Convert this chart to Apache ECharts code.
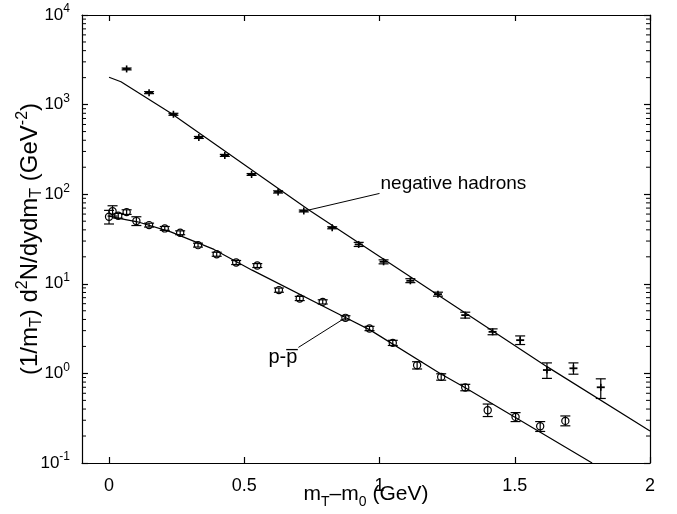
<!DOCTYPE html>
<html>
<head>
<meta charset="utf-8">
<script src="https://cdn.jsdelivr.net/npm/echarts@6/dist/echarts.min.js"></script>
<style>
  html, body { margin: 0; padding: 0; background: #fff; }
  #chart { width: 677px; height: 514px; }
</style>
</head>
<body>
<div id="chart"></div>
<script>
// Negative hadron spectrum (+ markers with error bars)
const hadronX  = [0.065, 0.148, 0.238, 0.332, 0.428, 0.527, 0.625, 0.720, 0.825, 0.923, 1.015, 1.114, 1.216, 1.317, 1.418, 1.520, 1.619, 1.717, 1.818];
const hadronY  = [2500, 1360, 780, 430, 271, 166, 106, 65.0, 42.2, 27.5, 17.6, 10.8, 7.66, 4.47, 2.91, 2.35, 1.09, 1.14, 0.70];
const hadronLo = [2440, 1325, 760, 419, 264, 162, 103, 63.4, 41.1, 26.1, 16.7, 10.3, 7.28, 4.14, 2.70, 2.10, 0.88, 0.98, 0.525];
const hadronHi = [2560, 1395, 800, 441, 278, 170, 109, 66.6, 43.3, 29.0, 18.5, 11.4, 8.06, 4.82, 3.14, 2.62, 1.31, 1.31, 0.87];

// Net proton spectrum (circles with error bars)
const ppbarX  = [0.000, 0.013, 0.034, 0.065, 0.101, 0.148, 0.206, 0.263, 0.329, 0.398, 0.470, 0.548, 0.628, 0.705, 0.790, 0.874, 0.963, 1.049, 1.139, 1.228, 1.317, 1.400, 1.503, 1.594, 1.687];
const ppbarY  = [56.0, 64.7, 57.4, 63.1, 50.1, 45.2, 41.5, 37.1, 27.0, 21.4, 17.3, 16.0, 8.5, 6.86, 6.28, 4.17, 3.17, 2.19, 1.23, 0.914, 0.695, 0.388, 0.327, 0.257, 0.295];
const ppbarLo = [46.5, 57.0, 54.0, 59.5, 44.7, 43.0, 39.5, 35.3, 25.7, 20.3, 16.4, 15.2, 8.05, 6.50, 5.95, 3.95, 3.00, 2.05, 1.12, 0.84, 0.64, 0.33, 0.29, 0.225, 0.26];
const ppbarHi = [66.0, 74.3, 61.0, 67.0, 56.0, 47.5, 43.6, 39.0, 28.4, 22.5, 18.2, 16.8, 8.97, 7.24, 6.63, 4.40, 3.35, 2.34, 1.35, 0.99, 0.755, 0.455, 0.365, 0.29, 0.335];

// Model curves
const hadronFitX = [0.0, 0.044, 0.229, 0.739, 1.619, 2.0];
const hadronFitY = [2020, 1800, 800, 66.7, 1.19, 0.227];
const ppbarFitX  = [0.0, 0.037, 0.105, 0.228, 0.388, 0.529, 0.874, 0.966, 1.224, 1.317, 1.786];
const ppbarFitY  = [57, 53.7, 49.2, 38.0, 24.2, 14.2, 4.2, 3.04, 1.0, 0.69, 0.1];

// Annotation leader lines: [from, to] in data units, and their texts
const hadronLeader = [[0.739, 66.7], [1.0, 102]];
const ppbarLeader  = [[0.875, 4.2], [0.70, 1.95]];
const hadronText = 'negative hadrons';
const ppbarText  = 'p-p\u0305';

// Axis ticks
const xTicks = [0, 0.5, 1, 1.5, 2];
const X_MIN = -0.1, X_MAX = 2;
const Y_MIN = 0.1, Y_MAX = 10000;
const minorYTicks = [];
for (let d = -1; d < 4; d++) {
  for (let m = 2; m <= 9; m++) minorYTicks.push(m * Math.pow(10, d));
}

const FONT = 'Liberation Sans, Arial, Helvetica, sans-serif';
const INK = '#000';

function pairs(xs, ys) { return xs.map((x, i) => [x, ys[i]]); }
function quads(xs, ys, lo, hi) { return xs.map((x, i) => [x, ys[i], lo[i], hi[i]]); }

function errorBarRenderer(marker) {
  return function (params, api) {
    const x = api.value(0);
    const c = api.coord([x, api.value(1)]);
    const lo = api.coord([x, api.value(2)]);
    const hi = api.coord([x, api.value(3)]);
    const cap = 5;
    const st = { stroke: INK, lineWidth: 1.2, fill: null };
    const children = [
      { type: 'line', shape: { x1: c[0], y1: lo[1], x2: c[0], y2: hi[1] }, style: st },
      { type: 'line', shape: { x1: c[0] - cap, y1: lo[1], x2: c[0] + cap, y2: lo[1] }, style: st },
      { type: 'line', shape: { x1: c[0] - cap, y1: hi[1], x2: c[0] + cap, y2: hi[1] }, style: st }
    ];
    if (marker === 'plus') {
      children.push({ type: 'line', shape: { x1: c[0] - 4, y1: c[1], x2: c[0] + 4, y2: c[1] }, style: { stroke: INK, lineWidth: 1.8 } });
      children.push({ type: 'line', shape: { x1: c[0], y1: c[1] - 3.5, x2: c[0], y2: c[1] + 3.5 }, style: { stroke: INK, lineWidth: 1.6 } });
    } else {
      children.push({ type: 'circle', shape: { cx: c[0], cy: c[1], r: 3.6 }, style: { stroke: INK, fill: 'rgba(0,0,0,0)', lineWidth: 1.2 } });
    }
    return { type: 'group', children: children };
  };
}

// Short inward ticks at 2..9 of every decade, on the left and right frame edges
function minorTickRenderer(params, api) {
  const v = api.value(1);
  const l = api.coord([X_MIN, v]);
  const r = api.coord([X_MAX, v]);
  const st = { stroke: INK, lineWidth: 1, fill: null };
  return {
    type: 'group',
    children: [
      { type: 'line', shape: { x1: l[0], y1: l[1], x2: l[0] + 4, y2: l[1] }, style: st },
      { type: 'line', shape: { x1: r[0], y1: r[1], x2: r[0] - 4, y2: r[1] }, style: st }
    ]
  };
}

function titleRich(size, small) {
  return {
    m:   { fontFamily: FONT, fontSize: size, color: INK, lineHeight: 30 },
    sub: { fontFamily: FONT, fontSize: small, color: INK, verticalAlign: 'bottom', lineHeight: 30 },
    sup: { fontFamily: FONT, fontSize: small, color: INK, verticalAlign: 'top', lineHeight: 30 }
  };
}

const axisLineStyle = { color: INK, width: 1.2 };

const option = {
  backgroundColor: '#fff',
  animation: false,
  grid: { left: 82, right: 27, top: 15, bottom: 51, outerBoundsMode: 'none', containLabel: false },
  xAxis: [
    {
      type: 'value', min: X_MIN, max: X_MAX,
      axisLine: { onZero: false, lineStyle: axisLineStyle },
      axisTick: { inside: true, length: 6, lineStyle: axisLineStyle, customValues: xTicks },
      axisLabel: { customValues: xTicks, margin: 14, fontSize: 18, fontFamily: FONT, color: INK },
      splitLine: { show: false },
      name: '{m|m}{sub|T}{m|–m}{sub|0}{m| (GeV)}',
      nameLocation: 'middle', nameGap: 16, nameMoveOverlap: false,
      nameTextStyle: { rich: titleRich(21, 14) }
    },
    {
      type: 'value', position: 'top', min: X_MIN, max: X_MAX,
      axisLine: { onZero: false, lineStyle: axisLineStyle },
      axisTick: { inside: true, length: 6, lineStyle: axisLineStyle, customValues: xTicks },
      axisLabel: { show: false },
      splitLine: { show: false }
    }
  ],
  yAxis: [
    {
      type: 'log', logBase: 10, min: Y_MIN, max: Y_MAX, position: 'left',
      axisLine: { onZero: false, lineStyle: axisLineStyle },
      axisTick: { inside: true, length: 6, lineStyle: axisLineStyle },
      axisLabel: {
        margin: 12,
        formatter: function (v) {
          const e = Math.round(Math.log10(v));
          return '{b|10}{s|' + (e < 0 ? '-' + (-e) : e) + '}';
        },
        rich: {
          b: { fontFamily: FONT, fontSize: 17, color: INK, lineHeight: 24 },
          s: { fontFamily: FONT, fontSize: 12, color: INK, verticalAlign: 'top', lineHeight: 24 }
        }
      },
      splitLine: { show: false },
      name: '{m|(1/m}{sub|T}{m|) d}{sup|2}{m|N/dydm}{sub|T}{m| (GeV}{sup|-2}{m|)}',
      nameLocation: 'middle', nameGap: 37, nameRotate: 90, nameMoveOverlap: false,
      nameTextStyle: { rich: titleRich(24, 16) }
    },
    {
      type: 'log', logBase: 10, min: Y_MIN, max: Y_MAX, position: 'right',
      axisLine: { onZero: false, lineStyle: axisLineStyle },
      axisTick: { inside: true, length: 6, lineStyle: axisLineStyle },
      axisLabel: { show: false },
      splitLine: { show: false }
    }
  ],
  series: [
    {
      name: 'minor ticks', type: 'custom', silent: true, clip: false,
      renderItem: minorTickRenderer,
      data: minorYTicks.map(v => [X_MIN, v]),
      encode: { x: 0, y: 1 }
    },
    {
      name: 'hadron fit', type: 'line', showSymbol: false, silent: true,
      data: pairs(hadronFitX, hadronFitY),
      lineStyle: { color: INK, width: 1.2 }, clip: true
    },
    {
      name: 'ppbar fit', type: 'line', showSymbol: false, silent: true,
      data: pairs(ppbarFitX, ppbarFitY),
      lineStyle: { color: INK, width: 1.2 }, clip: true
    },
    {
      name: 'negative hadrons', type: 'custom', renderItem: errorBarRenderer('plus'),
      data: quads(hadronX, hadronY, hadronLo, hadronHi), encode: { x: 0, y: 1 }, clip: true
    },
    {
      name: 'p-pbar', type: 'custom', renderItem: errorBarRenderer('circle'),
      data: quads(ppbarX, ppbarY, ppbarLo, ppbarHi), encode: { x: 0, y: 1 }, clip: true
    },
    {
      name: 'hadron leader', type: 'line', showSymbol: false, silent: true,
      data: hadronLeader, lineStyle: { color: INK, width: 1 }
    },
    {
      name: 'ppbar leader', type: 'line', showSymbol: false, silent: true,
      data: ppbarLeader, lineStyle: { color: INK, width: 1 }
    }
  ]
};

const chart = echarts.init(document.getElementById('chart'));
chart.setOption(option);

// Curve labels placed at the outer end of each leader line
const hEnd = chart.convertToPixel({ gridIndex: 0 }, hadronLeader[1]);
const pEnd = chart.convertToPixel({ gridIndex: 0 }, ppbarLeader[1]);
chart.setOption({
  graphic: [
    {
      type: 'text', x: hEnd[0] + 1, y: hEnd[1] - 10, silent: true,
      style: { text: hadronText, font: '19px ' + FONT, fill: INK, align: 'left', verticalAlign: 'middle' }
    },
    {
      type: 'text', x: pEnd[0] - 1, y: pEnd[1] + 10, silent: true,
      style: { text: ppbarText, font: '20px ' + FONT, fill: INK, align: 'right', verticalAlign: 'middle' }
    }
  ]
});
</script>
</body>
</html>
